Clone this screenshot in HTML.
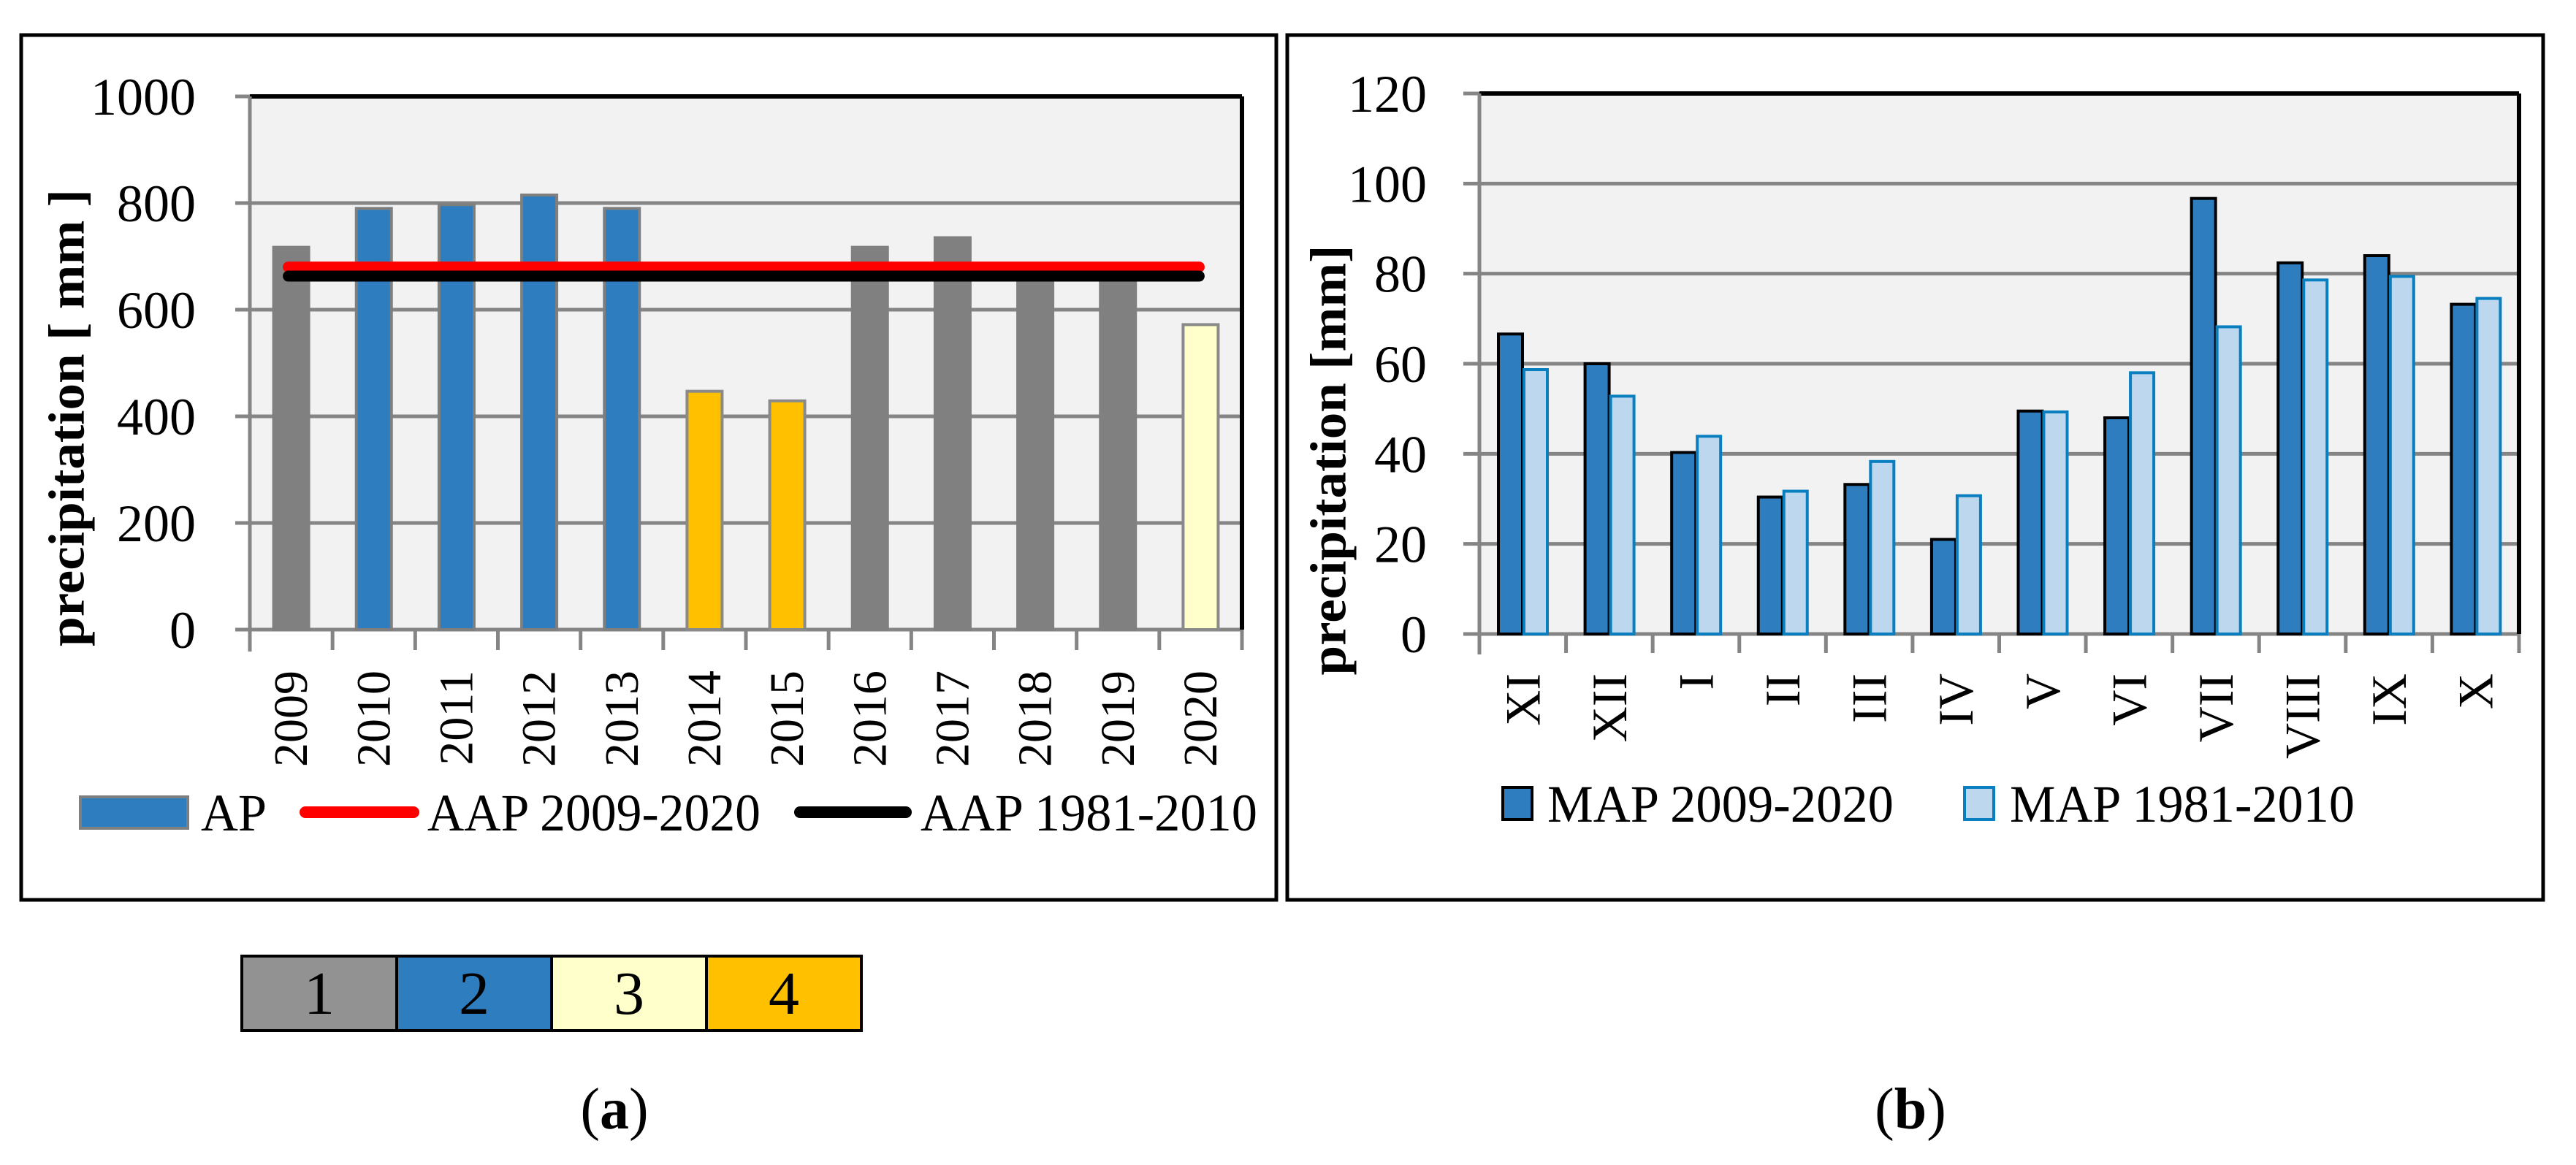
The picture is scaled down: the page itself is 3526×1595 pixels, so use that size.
<!DOCTYPE html>
<html><head><meta charset="utf-8"><style>
html,body{margin:0;padding:0;background:#fff}
svg{display:block;font-family:"Liberation Serif",serif}
</style></head><body>
<svg id="svg" width="3526" height="1595" viewBox="0 0 3526 1595" xmlns="http://www.w3.org/2000/svg">
<rect x="29" y="48" width="1718" height="1184" fill="#fff" stroke="#000" stroke-width="5"/>
<rect x="1762" y="48" width="1719" height="1184" fill="#fff" stroke="#000" stroke-width="5"/>
<g id="A"></g>
<g id="B"></g>
<g>
<rect x="331" y="1309" width="212" height="102" fill="#929292" stroke="#000" stroke-width="4"/>
<rect x="543" y="1309" width="212" height="102" fill="#2e7dbf" stroke="#000" stroke-width="4"/>
<rect x="755" y="1309" width="212" height="102" fill="#ffffcc" stroke="#000" stroke-width="4"/>
<rect x="967" y="1309" width="212" height="102" fill="#ffc000" stroke="#000" stroke-width="4"/>
<text x="437" y="1388" font-size="84" text-anchor="middle">1</text>
<text x="649" y="1388" font-size="84" text-anchor="middle">2</text>
<text x="861" y="1388" font-size="84" text-anchor="middle">3</text>
<text x="1073" y="1388" font-size="84" text-anchor="middle">4</text>
</g>
<text x="841" y="1545" font-size="80" text-anchor="middle">(<tspan font-weight="bold">a</tspan>)</text>
<text x="2615" y="1545" font-size="80" text-anchor="middle">(<tspan font-weight="bold">b</tspan>)</text>
</svg>
<script>
const years = ["2009","2010","2011","2012","2013","2014","2015","2016","2017","2018","2019","2020"];
const apValues = [717,790,797,815,790,447,429,717,735,662,660,572];
const apClass = [1,2,2,2,2,4,4,1,1,1,1,3];
const aapRecent = 680;
const aapLong = 663;
const aTicks = [0,200,400,600,800,1000];
const months = ["XI","XII","I","II","III","IV","V","VI","VII","VIII","IX","X"];
const map2009 = [66.6,60,40.3,30.4,33.2,21,49.5,48,96.7,82.4,84,73.2];
const map1981 = [58.7,52.8,43.9,31.7,38.3,30.7,49.3,58,68.2,78.6,79.4,74.5];
const bTicks = [0,20,40,60,80,100,120];

const NS="http://www.w3.org/2000/svg";
function mk(parent,tag,attrs,text){const e=document.createElementNS(NS,tag);for(const k in attrs)e.setAttribute(k,attrs[k]);if(text!==undefined)e.textContent=text;parent.appendChild(e);return e;}
const classFill={1:"#808080",2:"#2e7dbf",3:"#ffffcc",4:"#ffc000"};
const classStroke={1:"#808080",2:"#7f7f7f",3:"#8a8a8a",4:"#8a8a8a"};

// Chart A
(function(){
const g=document.getElementById('A');
const L=342,R=1700,T=132,B=862,max=1000;
const y=v=>B-(v/max)*(B-T);
const slot=(R-L)/years.length;
const x=i=>L+slot*(i+0.5);
let e=mk(g,'rect',{x:L,y:T,width:R-L,height:B-T,fill:'#f2f2f2'});


aTicks.forEach(t=>{
 e=mk(g,'line',{x1:L-20,x2:R,y1:y(t),y2:y(t),stroke:'#858585','stroke-width':5});
 
 
 e=mk(g,'text',{x:268,y:y(t)+25,'font-size':72,'text-anchor':'end'},String(t));
 
 
});
mk(g,'line',{x1:L,x2:R,y1:T,y2:T,stroke:'#000','stroke-width':6});
mk(g,'line',{x1:R,x2:R,y1:T,y2:B,stroke:'#000','stroke-width':6});
mk(g,'line',{x1:L,x2:L,y1:T,y2:B+30,stroke:'#858585','stroke-width':5});
for(let i=0;i<=years.length;i++){mk(g,'line',{x1:L+slot*i,x2:L+slot*i,y1:B,y2:B+28,stroke:'#858585','stroke-width':5});}
years.forEach((yr,i)=>{
 const bw=48;
 e=mk(g,'rect',{x:x(i)-bw/2,y:y(apValues[i]),width:bw,height:B-y(apValues[i]),fill:classFill[apClass[i]],stroke:classStroke[apClass[i]],'stroke-width':4});
 
 
 e=mk(g,'text',{x:0,y:0,'font-size':66,'text-anchor':'end','dominant-baseline':'central',transform:`translate(${x(i)},918) rotate(-90)`},yr);
 
 
});
e=mk(g,'line',{x1:x(0)-4,x2:x(11)-2,y1:y(aapRecent),y2:y(aapRecent),stroke:'#ff0000','stroke-width':15,'stroke-linecap':'round'});


e=mk(g,'line',{x1:x(0)-4,x2:x(11)-2,y1:y(aapLong),y2:y(aapLong),stroke:'#000','stroke-width':15,'stroke-linecap':'round'});


e=mk(g,'text',{x:0,y:0,'font-size':70,'font-weight':'bold','text-anchor':'middle','dominant-baseline':'central',transform:'translate(92,572) rotate(-90)',textLength:626,lengthAdjust:'spacingAndGlyphs'},'precipitation [ mm ]');


// legend
const ly=1112;
e=mk(g,'rect',{x:110,y:1091,width:147,height:43,fill:'#2e7dbf',stroke:'#7f7f7f','stroke-width':4});


e=mk(g,'text',{x:275,y:ly+25,'font-size':72,textLength:90,lengthAdjust:'spacingAndGlyphs'},'AP');


e=mk(g,'line',{x1:418,x2:566,y1:ly,y2:ly,stroke:'#ff0000','stroke-width':16,'stroke-linecap':'round'});


e=mk(g,'text',{x:585,y:ly+25,'font-size':72,textLength:456,lengthAdjust:'spacingAndGlyphs'},'AAP 2009-2020');


e=mk(g,'line',{x1:1095,x2:1240,y1:ly,y2:ly,stroke:'#000','stroke-width':16,'stroke-linecap':'round'});


e=mk(g,'text',{x:1260,y:ly+25,'font-size':72,textLength:461,lengthAdjust:'spacingAndGlyphs'},'AAP 1981-2010');


})();

// Chart B
(function(){
const g=document.getElementById('B');
const L=2025,R=3448,T=128,B=868,max=120;
const y=v=>B-(v/max)*(B-T);
const slot=(R-L)/months.length;
let e=mk(g,'rect',{x:L,y:T,width:R-L,height:B-T,fill:'#f2f2f2'});


bTicks.forEach(t=>{
 e=mk(g,'line',{x1:L-22,x2:R,y1:y(t),y2:y(t),stroke:'#858585','stroke-width':5});
 
 
 e=mk(g,'text',{x:1953,y:y(t)+25,'font-size':72,'text-anchor':'end'},String(t));
 
 
});
mk(g,'line',{x1:L,x2:R,y1:T,y2:T,stroke:'#000','stroke-width':6});
mk(g,'line',{x1:R,x2:R,y1:T,y2:B,stroke:'#000','stroke-width':6});
mk(g,'line',{x1:L,x2:L,y1:T,y2:B+28,stroke:'#858585','stroke-width':5});
for(let i=0;i<=months.length;i++){mk(g,'line',{x1:L+slot*i,x2:L+slot*i,y1:B,y2:B+26,stroke:'#858585','stroke-width':5});}
months.forEach((m,i)=>{
 const x0=L+slot*i+26;
 e=mk(g,'rect',{x:x0,y:y(map2009[i]),width:33,height:B-y(map2009[i]),fill:'#2e7dbf',stroke:'#000','stroke-width':4});
 
 
 e=mk(g,'rect',{x:x0+35,y:y(map1981[i]),width:32,height:B-y(map1981[i]),fill:'#bdd7ee',stroke:'#0a7fbf','stroke-width':4});
 
 
 e=mk(g,'text',{x:0,y:0,'font-size':68,'text-anchor':'end','dominant-baseline':'central',transform:`translate(${L+slot*(i+0.5)},922) rotate(-90)`},m);
 
 
});
e=mk(g,'text',{x:0,y:0,'font-size':70,'font-weight':'bold','text-anchor':'middle','dominant-baseline':'central',transform:'translate(1819,630) rotate(-90)',textLength:589,lengthAdjust:'spacingAndGlyphs'},'precipitation [mm]');


const ly=1100;
e=mk(g,'rect',{x:2057,y:ly-22,width:40,height:44,fill:'#2e7dbf',stroke:'#000','stroke-width':4});


e=mk(g,'text',{x:2118,y:ly+25,'font-size':72,textLength:474,lengthAdjust:'spacingAndGlyphs'},'MAP 2009-2020');


e=mk(g,'rect',{x:2689,y:ly-22,width:40,height:44,fill:'#bdd7ee',stroke:'#0a7fbf','stroke-width':4});


e=mk(g,'text',{x:2751,y:ly+25,'font-size':72,textLength:472,lengthAdjust:'spacingAndGlyphs'},'MAP 1981-2010');


})();
</script>
</body></html>
